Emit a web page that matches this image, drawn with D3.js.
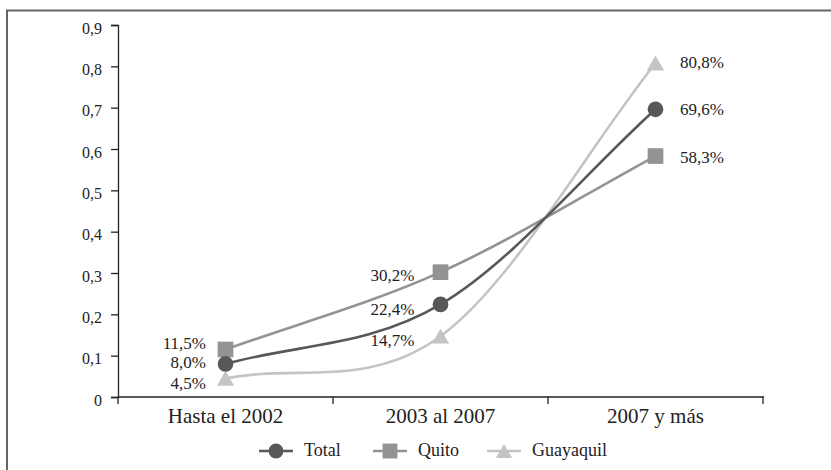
<!DOCTYPE html>
<html><head><meta charset="utf-8">
<script src="https://cdn.jsdelivr.net/npm/d3@7"></script>
<style>body{margin:0;background:#fff}svg{display:block}</style>
</head><body><svg id="c" width="831" height="470"></svg>
<script>
const categories = ["Hasta el 2002", "2003 al 2007", "2007 y más"];
const seriesNames = ["Total", "Quito", "Guayaquil"];
const total = [0.080, 0.224, 0.696];
const quito = [0.115, 0.302, 0.583];
const guayaquil = [0.045, 0.147, 0.808];
const yTicks = [0, 0.1, 0.2, 0.3, 0.4, 0.5, 0.6, 0.7, 0.8, 0.9];
const colors = {Total: "#58585a", Quito: "#939393", Guayaquil: "#c4c4c4"};
const symbols = {Total: d3.symbolCircle, Quito: d3.symbolSquare, Guayaquil: d3.symbolTriangle};
const series = [{name: "Total", values: total}, {name: "Quito", values: quito}, {name: "Guayaquil", values: guayaquil}];

const FONT = "'Liberation Serif', 'Times New Roman', Tinos, 'DejaVu Serif', serif";
const svg = d3.select("#c").attr("font-family", FONT);
const fmtNum = v => String(+v.toFixed(1)).replace(".", ",");
const fmtPct = v => (v * 100).toFixed(1).replace(".", ",") + "%";

svg.append("rect").attr("x", 7).attr("y", 10.5).attr("width", 840).attr("height", 480)
  .attr("fill", "none").attr("stroke", "#666").attr("stroke-width", 2);

const x = d3.scaleBand().domain(categories).range([118, 763]);
const y = d3.scaleLinear().domain([0, 0.9]).range([397, 25]);
const cx = c => x(c) + x.bandwidth() / 2;

const yAxis = svg.append("g").attr("transform", "translate(118,0)")
  .call(d3.axisLeft(y).tickValues(yTicks).tickFormat(fmtNum).tickSizeInner(7).tickSizeOuter(7).tickPadding(9));
yAxis.attr("font-family", FONT).attr("font-size", null);
yAxis.selectAll("text").style("font-size", "16px").style("font-family", FONT).attr("fill", "#222").attr("dy", "0.52em");
yAxis.select(".domain").attr("stroke", "#222").attr("stroke-width", 1.3);
yAxis.selectAll(".tick line").attr("stroke", "#222").attr("stroke-width", 1.3);

const xAxisG = svg.append("g").attr("transform", "translate(0,397)");
xAxisG.append("line").attr("x1", 118).attr("x2", 764).attr("stroke", "#222").attr("stroke-width", 1.3);
const bounds = [0, 1, 2, 3].map(i => i < 3 ? x(categories[i]) : x(categories[2]) + x.bandwidth());
xAxisG.selectAll(".bt").data(bounds).enter().append("line")
  .attr("x1", d => d).attr("x2", d => d).attr("y1", 0).attr("y2", 7).attr("stroke", "#222").attr("stroke-width", 1.3);
xAxisG.selectAll(".cl").data(categories).enter().append("text")
  .attr("x", d => cx(d)).attr("y", 26).attr("text-anchor", "middle")
  .style("font-size", "21px").style("font-family", FONT).attr("fill", "#222").text(d => d);

// Excel-style smoothed line as a custom d3 curve
function curveExcel(context) {
  let pts;
  return {
    areaStart() {}, areaEnd() {},
    lineStart() { pts = []; },
    point(px, py) { pts.push([+px, +py]); },
    lineEnd() {
      const n = pts.length;
      if (!n) return;
      context.moveTo(pts[0][0], pts[0][1]);
      for (let i = 0; i < n - 1; i++) {
        const p1 = pts[i], p2 = pts[i + 1];
        let c1, c2;
        if (i === 0) c1 = [p1[0] + (p2[0] - p1[0]) / 3, p1[1] + (p2[1] - p1[1]) / 3];
        else { const p0 = pts[i - 1]; c1 = [p1[0] + (p2[0] - p0[0]) / 6, p1[1] + (p2[1] - p0[1]) / 6]; }
        if (i === n - 2) c2 = [p2[0] - (p2[0] - p1[0]) / 3, p2[1] - (p2[1] - p1[1]) / 3];
        else { const p3 = pts[i + 2]; c2 = [p2[0] - (p3[0] - p1[0]) / 6, p2[1] - (p3[1] - p1[1]) / 6]; }
        context.bezierCurveTo(c1[0], c1[1], c2[0], c2[1], p2[0], p2[1]);
      }
    }
  };
}

const line = d3.line().x((d, i) => cx(categories[i])).y(d => y(d)).curve(curveExcel);
const drawOrder = ["Guayaquil", "Quito", "Total"];
drawOrder.forEach(n => {
  const s = series.find(t => t.name === n);
  svg.append("path").datum(s.values).attr("d", line).attr("fill", "none")
    .attr("stroke", colors[n]).attr("stroke-width", 2.6);
});
const symSize = {Total: 193, Quito: 246, Guayaquil: 128};
const symOff = {Total: 0, Quito: 0, Guayaquil: 2.4};
drawOrder.forEach(n => {
  const s = series.find(t => t.name === n);
  svg.selectAll(null).data(s.values).enter().append("path")
    .attr("d", d3.symbol().type(symbols[n]).size(symSize[n]))
    .attr("transform", (d, i) => `translate(${cx(categories[i])},${y(d) + symOff[n]})`)
    .attr("fill", colors[n]);
});

// data labels
const labelPos = {
  0: {anchor: "end", dx: -19.5, dy: {Quito: 0, Total: 4.5, Guayaquil: 10.5}},
  1: {anchor: "end", dx: -26, dy: {Quito: 9, Total: 10.5, Guayaquil: 10}},
  2: {anchor: "start", dx: 24.5, dy: {Quito: 6.5, Total: 6, Guayaquil: 5}}
};
series.forEach(s => {
  s.values.forEach((v, i) => {
    const p = labelPos[i];
    svg.append("text").attr("x", cx(categories[i]) + p.dx).attr("y", y(v) + p.dy[s.name])
      .attr("text-anchor", p.anchor).style("font-size", "17px").style("font-family", FONT)
      .attr("fill", "#222").text(fmtPct(v));
  });
});

// legend
const legX = [259, 373, 487];
series.forEach((s, i) => {
  const g = svg.append("g").attr("transform", `translate(${legX[i]},451)`);
  g.append("line").attr("x1", 0).attr("x2", 34).attr("stroke", colors[s.name]).attr("stroke-width", 2.6);
  g.append("path").attr("d", d3.symbol().type(symbols[s.name]).size(symSize[s.name] * 0.9))
    .attr("transform", `translate(17,${symOff[s.name]})`).attr("fill", colors[s.name]);
  g.append("text").attr("x", 45).attr("y", 5).style("font-size", "18px").style("font-family", FONT)
    .attr("fill", "#222").text(s.name);
});
</script></body></html>
